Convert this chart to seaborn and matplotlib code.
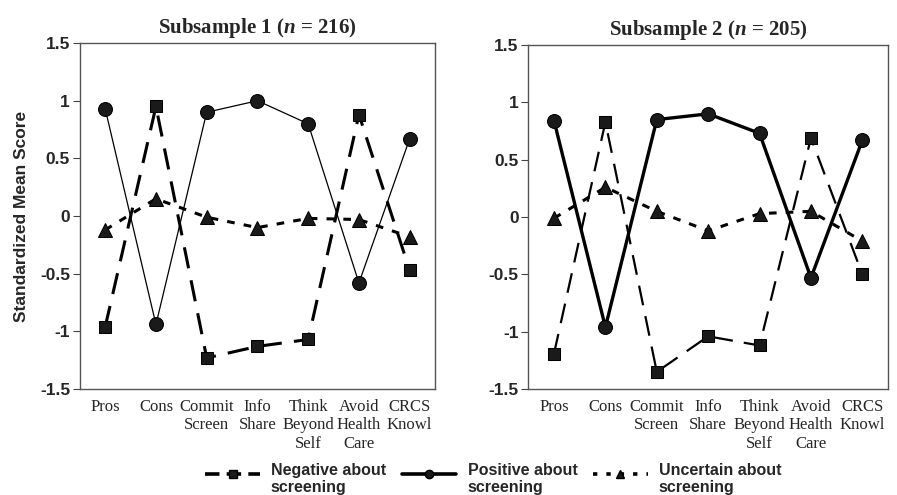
import matplotlib
matplotlib.use("Agg")
import matplotlib.pyplot as plt
from matplotlib.lines import Line2D
import seaborn as sns
import pandas as pd

categories = ["Pros", "Cons", "Commit\nScreen", "Info\nShare", "Think\nBeyond\nSelf", "Avoid\nHealth\nCare", "CRCS\nKnowl"]

# Subsample 1
s1_negative = [-0.96, 0.95, -1.23, -1.13, -1.07, 0.88, -0.47]
s1_positive = [0.93, -0.94, 0.90, 1.00, 0.80, -0.58, 0.67]
s1_uncertain = [-0.12, 0.15, -0.01, -0.10, -0.02, -0.03, -0.18]

# Subsample 2
s2_negative = [-1.19, 0.83, -1.35, -1.04, -1.12, 0.69, -0.50]
s2_positive = [0.84, -0.96, 0.85, 0.90, 0.73, -0.53, 0.67]
s2_uncertain = [-0.01, 0.26, 0.05, -0.12, 0.03, 0.05, -0.21]

titles = ["Subsample 1 ($n$ = 216)", "Subsample 2 ($n$ = 205)"]
series_labels = ["Negative about\nscreening", "Positive about\nscreening", "Uncertain about\nscreening"]
yticks = [-1.5, -1, -0.5, 0, 0.5, 1, 1.5]
ytick_labels = ["-1.5", "-1", "-0.5", "0", "0.5", "1", "1.5"]

sns.set_theme(style="white")
plt.rcParams["font.family"] = ["Liberation Sans", "DejaVu Sans"]
plt.rcParams["mathtext.fontset"] = "custom"
plt.rcParams["mathtext.it"] = "Liberation Serif:italic:bold"
plt.rcParams["mathtext.rm"] = "Liberation Serif:bold"

fig = plt.figure(figsize=(8.97, 4.95), dpi=100)
ax1 = fig.add_axes([0.089, 0.214, 0.396, 0.699])
ax2 = fig.add_axes([0.589, 0.214, 0.401, 0.695])

styles = {
    1: dict(
        neg=dict(lw=2.2, ls=(0, (7, 4)), ms=9),
        pos=dict(lw=0.9, ls="-", ms=10),
        unc=dict(lw=2.2, ls=(0, (2.5, 3)), ms=10.5),
    ),
    2: dict(
        neg=dict(lw=1.6, ls=(0, (9, 5)), ms=9),
        pos=dict(lw=2.4, ls="-", ms=10),
        unc=dict(lw=2.2, ls=(0, (2.5, 3)), ms=10.5),
    ),
}

panels = [
    (ax1, titles[0], s1_negative, s1_positive, s1_uncertain, styles[1]),
    (ax2, titles[1], s2_negative, s2_positive, s2_uncertain, styles[2]),
]

for ax, title, neg, pos, unc, st in panels:
    for vals, key, marker, lab in [
        (neg, "neg", "s", series_labels[0]),
        (pos, "pos", "o", series_labels[1]),
        (unc, "unc", "^", series_labels[2]),
    ]:
        df = pd.DataFrame({"cat": categories, "val": vals})
        sns.lineplot(data=df, x="cat", y="val", ax=ax, sort=False, estimator=None,
                     color="black", linewidth=st[key]["lw"], linestyle=st[key]["ls"],
                     marker=marker, markersize=st[key]["ms"], markeredgecolor="black",
                     markerfacecolor="#1a1a1a", label=lab, legend=False)
    ax.set_xlim(-0.5, 6.5)
    ax.set_ylim(-1.5, 1.5)
    ax.set_yticks(yticks)
    ax.set_yticklabels(ytick_labels, fontsize=12.5, fontweight="bold")
    ax.set_xticks(range(len(categories)))
    ax.set_xticklabels(categories, fontsize=12, family="Liberation Serif", linespacing=1.2)
    ax.tick_params(axis="y", which="major", left=True, length=5, width=0.8, color="#444444", pad=2)
    ax.tick_params(axis="x", bottom=False, pad=1)
    ax.set_xlabel("")
    ax.set_ylabel("")
    for sp in ax.spines.values():
        sp.set_visible(True)
        sp.set_color("#555555")
        sp.set_linewidth(1.0)
    ax.set_title(title, fontsize=15, fontweight="bold", family="Liberation Serif", pad=7)

ax1.set_ylabel("Standardized Mean Score", fontsize=12.5, fontweight="bold", labelpad=8)

handles = [
    Line2D([], [], color="black", lw=2.6, ls=(0, (4, 2)), marker="s", ms=6, mfc="#1a1a1a", mec="black"),
    Line2D([], [], color="black", lw=2.6, ls="-", marker="o", ms=6, mfc="#1a1a1a", mec="black"),
    Line2D([], [], color="black", lw=2.6, ls=(0, (1.2, 2.5)), marker="^", ms=6, mfc="#1a1a1a", mec="black"),
]
fig.legend(handles, series_labels, loc="lower center", bbox_to_anchor=(0.55, -0.018), ncol=3,
           frameon=False, handlelength=3.4, handleheight=2.7, columnspacing=1.0, handletextpad=0.7,
           borderpad=0.0, labelspacing=0.3, prop=dict(weight="bold", size=11.5))

fig.savefig("out.png", dpi=100)
